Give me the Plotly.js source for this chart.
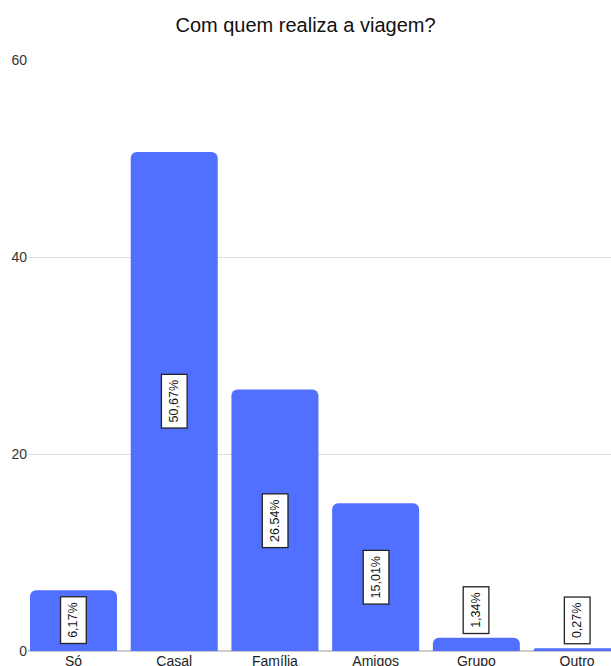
<!DOCTYPE html>
<html>
<head>
<meta charset="utf-8">
<script src="https://cdn.plot.ly/plotly-3.0.1.min.js"></script>
<style>html,body{margin:0;padding:0;background:#fff;}#chart{width:611px;height:666px;}</style>
</head>
<body>
<div id="chart"></div>
<script>
const categories = ["Só", "Casal", "Família", "Amigos", "Grupo", "Outro"];
const values = [6.17, 50.67, 26.54, 15.01, 1.34, 0.27];
const labels = ["6,17%", "50,67%", "26.54%", "15,01%", "1,34%", "0,27%"];
const yTicks = [0, 20, 40, 60];

const fontFamily = "Liberation Sans, Arial, Helvetica, sans-serif";

const trace = {
  type: "bar",
  x: categories,
  y: values,
  marker: { color: "#5270FF", cornerradius: 6, line: { width: 0 } },
  hoverinfo: "x+y"
};

const annotations = categories.map((c, i) => {
  const inside = values[i] > 5;
  return {
    x: c,
    y: inside ? values[i] / 2 : values[i],
    yanchor: inside ? "middle" : "bottom",
    yshift: inside ? 0 : 4,
    xref: "x",
    yref: "y",
    text: labels[i],
    textangle: -90,
    showarrow: false,
    bgcolor: "#ffffff",
    bordercolor: "#222222",
    borderwidth: 1.3,
    borderpad: 5,
    font: { family: fontFamily, size: 12.5, color: "#111111" }
  };
});

const layout = {
  width: 611,
  height: 666,
  margin: { l: 28, r: 0, t: 60, b: 15 },
  paper_bgcolor: "#ffffff",
  plot_bgcolor: "#ffffff",
  bargap: 0.136,
  showlegend: false,
  title: {
    text: "Com quem realiza a viagem?",
    x: 0.5,
    xanchor: "center",
    y: 0.962,
    yanchor: "middle",
    font: { family: fontFamily, size: 20, color: "#111111" }
  },
  xaxis: {
    type: "category",
    range: [-0.452, 5.337],
    showgrid: false,
    zeroline: false,
    showline: false,
    ticks: "",
    tickfont: { family: fontFamily, size: 14, color: "#222222" },
    fixedrange: true
  },
  yaxis: {
    range: [0, 60],
    tickvals: yTicks,
    ticktext: yTicks.map(String),
    showgrid: true,
    gridcolor: "#dddddd",
    gridwidth: 1,
    zeroline: true,
    zerolinecolor: "#cccccc",
    zerolinewidth: 2,
    showline: false,
    ticks: "",
    tickfont: { family: fontFamily, size: 14, color: "#333333" },
    fixedrange: true
  },
  annotations: annotations
};

Plotly.newPlot("chart", [trace], layout, { displayModeBar: false, staticPlot: true });
</script>
</body>
</html>
